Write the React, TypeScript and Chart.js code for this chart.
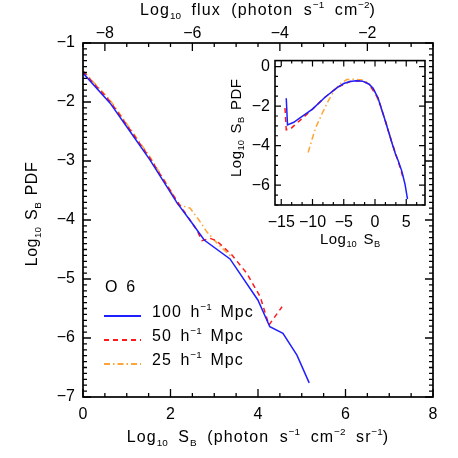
import { useEffect, useRef } from 'react';
import { Chart, registerables } from 'chart.js';

Chart.register(...registerables);

const FONT = '"Liberation Sans", "DejaVu Sans", Arial, sans-serif';

// ---------- Main panel data ----------
const mainBlueX = [0, 0.62, 1.0, 1.53, 2.15, 2.5, 2.77, 3.36, 4.0, 4.27, 4.57, 4.89, 5.17];
const mainBlueY = [-1.51, -2.02, -2.42, -2.98, -3.71, -4.06, -4.34, -4.66, -5.36, -5.81, -5.92, -6.29, -6.76];

const mainRedX = [0, 0.62, 1.0, 1.53, 2.15, 2.4, 2.6, 2.72, 2.9, 3.05, 3.4, 3.74, 4.05, 4.25, 4.55];
const mainRedY = [-1.48, -1.99, -2.39, -2.95, -3.68, -3.95, -4.17, -4.35, -4.31, -4.35, -4.59, -4.9, -5.3, -5.78, -5.47];

const mainOrangeX = [0, 0.62, 1.0, 1.53, 2.0, 2.17, 2.45, 2.65, 2.83, 3.1, 3.4];
const mainOrangeY = [-1.47, -1.97, -2.37, -2.93, -3.5, -3.74, -3.8, -4.0, -4.2, -4.42, -4.63];

const mainXMajor = [0, 2, 4, 6, 8];
const mainYMajor = [-7, -6, -5, -4, -3, -2, -1];
const fluxMajor = [-8, -6, -4, -2];

// ---------- Inset data ----------
const insetBlueX = [-14.2, -14.0, -13, -12, -10, -8, -6, -5, -4, -3, -2, -1, -0.3, 0.5, 1.6, 2.7, 3.3, 3.7, 4.3, 4.8, 5.2];
const insetBlueY = [-1.6, -2.95, -2.82, -2.6, -2.15, -1.55, -1.05, -0.86, -0.76, -0.72, -0.74, -0.88, -1.1, -1.6, -2.7, -3.85, -4.45, -4.75, -5.3, -5.95, -6.7];

const insetRedX = [-14.4, -14.2, -13.5, -13, -12, -10.5, -9, -8, -6, -4, -3, -2, -1, 0.5, 1.6, 2.7, 3.5, 4.2, 4.5];
const insetRedY = [-2.1, -3.2, -3.15, -3.0, -2.72, -2.3, -1.85, -1.55, -1.05, -0.76, -0.72, -0.74, -0.88, -1.6, -2.7, -3.85, -4.6, -5.3, -5.62];

const insetOrangeX = [-10.7, -10, -9.5, -8.5, -7.5, -6.5, -5.5, -4.5, -3.5, -2, -1, 0, 1.6, 2.7, 3.4];
const insetOrangeY = [-4.35, -3.6, -3.1, -2.4, -1.75, -1.2, -0.85, -0.66, -0.64, -0.68, -0.82, -1.3, -2.65, -3.8, -4.5];

const insetXMajor = [-15, -10, -5, 0, 5];
const insetYMajor = [-6, -4, -2, 0];

const legendLabels = ['100', '50', '25'];
const ionLabel = 'O  6';

const BLUE = '#1e1eff';
const RED = '#ff1a1a';
const ORANGE = '#ffa436';

type Seg = { t: string; s?: 'sub' | 'sup' };
type RichOpts = { ls?: number; sp?: number };

function segAdvance(ctx: CanvasRenderingContext2D, sg: Seg, size: number, o: RichOpts) {
  const fs = sg.s ? size * 0.62 : size;
  ctx.font = `${fs}px ${FONT}`;
  const ls = sg.s ? 0 : o.ls || 0;
  const spaces = (sg.t.match(/ /g) || []).length;
  return ctx.measureText(sg.t).width + ls * sg.t.length + spaces * (o.sp || 0);
}

function drawRich(
  ctx: CanvasRenderingContext2D,
  segs: Seg[],
  x: number,
  y: number,
  size: number,
  align: 'left' | 'center',
  rotate = 0,
  o: RichOpts = {}
) {
  ctx.save();
  ctx.translate(x, y);
  if (rotate) ctx.rotate(rotate);
  let total = 0;
  for (const sg of segs) total += segAdvance(ctx, sg, size, o);
  let cx = align === 'center' ? -total / 2 : 0;
  ctx.textBaseline = 'middle';
  ctx.textAlign = 'left';
  ctx.fillStyle = '#000';
  for (const sg of segs) {
    const fs = sg.s ? size * 0.62 : size;
    ctx.font = `${fs}px ${FONT}`;
    const dy = sg.s === 'sub' ? size * 0.3 : sg.s === 'sup' ? -size * 0.36 : 0;
    const ls = sg.s ? 0 : o.ls || 0;
    for (const ch of sg.t) {
      ctx.fillText(ch, cx, dy);
      cx += ctx.measureText(ch).width + ls + (ch === ' ' ? o.sp || 0 : 0);
    }
  }
  ctx.restore();
}

const fmt = (v: number | string) => {
  const n = Number(v);
  return (n < 0 ? '\u2212' : '') + Math.abs(n);
};

function rangeSteps(min: number, max: number, step: number, start: number) {
  const out: number[] = [];
  for (let i = -200; i <= 200; i++) {
    const v = start + i * step;
    if (v >= min - 1e-9 && v <= max + 1e-9) out.push(v);
  }
  return out;
}

function isMajor(v: number, majors: number[]) {
  return majors.some((m) => Math.abs(m - v) < 1e-6);
}

function pts(xs: number[], ys: number[]) {
  return xs.map((x, i) => ({ x, y: ys[i] }));
}

function ds(label: string, xs: number[], ys: number[], color: string, dash: number[]) {
  return {
    label,
    data: pts(xs, ys),
    borderColor: color,
    backgroundColor: color,
    borderWidth: 1.5,
    borderDash: dash,
    pointRadius: 0,
    fill: false,
    tension: 0,
    xAxisID: 'x',
    yAxisID: 'y',
  };
}

const DASH_RED = [5, 4];
const DASH_ORANGE = [6, 3, 1.5, 3];
const TITLE_OPTS: RichOpts = { ls: 1.1, sp: 5 };
const LEGEND_OPTS: RichOpts = { ls: 1.1, sp: 3 };

export default function App() {
  const mainRef = useRef<HTMLCanvasElement>(null);
  const insetRef = useRef<HTMLCanvasElement>(null);

  useEffect(() => {
    const tickFont = { family: FONT, size: 16 };

    const mainPlugin = {
      id: 'mainDeco',
      afterDraw(chart: any) {
        const ctx: CanvasRenderingContext2D = chart.ctx;
        const a = chart.chartArea;
        const xs = chart.scales.x;
        const ys = chart.scales.y;
        const x2 = chart.scales.x2;
        ctx.save();
        ctx.strokeStyle = '#000';
        ctx.lineWidth = 1.7;
        ctx.strokeRect(a.left, a.top, a.right - a.left, a.bottom - a.top);
        ctx.lineWidth = 1.3;
        ctx.beginPath();
        const MAJ = 8;
        const MIN = 4;
        for (const v of rangeSteps(0, 8, 0.5, 0)) {
          const px = xs.getPixelForValue(v);
          const L = isMajor(v, mainXMajor) ? MAJ : MIN;
          ctx.moveTo(px, a.bottom);
          ctx.lineTo(px, a.bottom - L);
        }
        for (const v of rangeSteps(-8.5, -0.5, 0.5, 0)) {
          const px = x2.getPixelForValue(v);
          const L = isMajor(v, fluxMajor) ? MAJ : MIN;
          ctx.moveTo(px, a.top);
          ctx.lineTo(px, a.top + L);
        }
        for (const v of rangeSteps(-7, -1, 0.1, 0)) {
          const py = ys.getPixelForValue(v);
          const L = isMajor(v, mainYMajor) ? MAJ : MIN;
          ctx.moveTo(a.left, py);
          ctx.lineTo(a.left + L, py);
          ctx.moveTo(a.right, py);
          ctx.lineTo(a.right - L, py);
        }
        ctx.stroke();

        // titles
        drawRich(
          ctx,
          [{ t: 'Log' }, { t: '10', s: 'sub' }, { t: ' flux (photon s' }, { t: '\u22121', s: 'sup' }, { t: ' cm' }, { t: '\u22122', s: 'sup' }, { t: ')' }],
          258,
          11,
          16,
          'center',
          0,
          TITLE_OPTS
        );
        drawRich(
          ctx,
          [{ t: 'Log' }, { t: '10', s: 'sub' }, { t: ' S' }, { t: 'B', s: 'sub' }, { t: ' (photon s' }, { t: '\u22121', s: 'sup' }, { t: ' cm' }, { t: '\u22122', s: 'sup' }, { t: ' sr' }, { t: '\u22121', s: 'sup' }, { t: ')' }],
          258,
          438,
          16,
          'center',
          0,
          TITLE_OPTS
        );
        drawRich(
          ctx,
          [{ t: 'Log' }, { t: '10', s: 'sub' }, { t: ' S' }, { t: 'B', s: 'sub' }, { t: ' PDF' }],
          33,
          214,
          16,
          'center',
          -Math.PI / 2,
          { ls: 0.5, sp: 2 }
        );

        // legend
        drawRich(ctx, [{ t: ionLabel }], 105, 288, 16, 'left');
        const rows = [313, 337, 361];
        chart.data.datasets.forEach((d: any, i: number) => {
          const y = rows[i];
          ctx.save();
          ctx.strokeStyle = d.borderColor;
          ctx.lineWidth = 1.8;
          ctx.setLineDash(d.borderDash || []);
          ctx.beginPath();
          ctx.moveTo(104, y + 3);
          ctx.lineTo(141, y + 3);
          ctx.stroke();
          ctx.restore();
          drawRich(ctx, [{ t: legendLabels[i] + ' h' }, { t: '\u22121', s: 'sup' }, { t: ' Mpc' }], 152, y, 16, 'left', 0, LEGEND_OPTS);
        });
        ctx.restore();
      },
    };

    const mainChart = new Chart(mainRef.current as HTMLCanvasElement, {
      type: 'line',
      data: {
        datasets: [
          ds('100', mainBlueX, mainBlueY, BLUE, []),
          ds('50', mainRedX, mainRedY, RED, DASH_RED),
          ds('25', mainOrangeX, mainOrangeY, ORANGE, DASH_ORANGE),
        ] as any,
      },
      options: {
        responsive: false,
        animation: false,
        events: [],
        layout: { padding: { left: 0, right: 25, top: 0, bottom: 0 } },
        plugins: { legend: { display: false }, tooltip: { enabled: false } },
        scales: {
          x: {
            type: 'linear',
            position: 'bottom',
            min: 0,
            max: 8,
            afterBuildTicks: (s: any) => {
              s.ticks = mainXMajor.map((v) => ({ value: v }));
            },
            afterFit: (s: any) => {
              s.height = 61;
            },
            grid: { display: false, drawTicks: false },
            border: { display: false },
            ticks: { font: tickFont, color: '#000', padding: 8, maxRotation: 0, autoSkip: false, callback: fmt },
          },
          x2: {
            type: 'linear',
            position: 'top',
            min: -8.5,
            max: -0.5,
            afterBuildTicks: (s: any) => {
              s.ticks = fluxMajor.map((v) => ({ value: v }));
            },
            afterFit: (s: any) => {
              s.height = 43;
            },
            grid: { display: false, drawTicks: false },
            border: { display: false },
            ticks: { font: tickFont, color: '#000', padding: 0, maxRotation: 0, autoSkip: false, callback: fmt },
          },
          y: {
            type: 'linear',
            position: 'left',
            min: -7,
            max: -1,
            afterBuildTicks: (s: any) => {
              s.ticks = mainYMajor.map((v) => ({ value: v }));
            },
            afterFit: (s: any) => {
              s.width = 83;
            },
            grid: { display: false, drawTicks: false },
            border: { display: false },
            ticks: { font: tickFont, color: '#000', padding: 8, autoSkip: false, callback: fmt },
          },
        } as any,
      },
      plugins: [mainPlugin],
    });

    const insetFont = { family: FONT, size: 16 };
    const insetPlugin = {
      id: 'insetDeco',
      afterDraw(chart: any) {
        const ctx: CanvasRenderingContext2D = chart.ctx;
        const a = chart.chartArea;
        const xs = chart.scales.x;
        const ys = chart.scales.y;
        ctx.save();
        ctx.strokeStyle = '#000';
        ctx.lineWidth = 1.6;
        ctx.strokeRect(a.left, a.top, a.right - a.left, a.bottom - a.top);
        ctx.lineWidth = 1.2;
        ctx.beginPath();
        for (const v of rangeSteps(-16, 8, 5 / 3, 0)) {
          const px = xs.getPixelForValue(v);
          const L = isMajor(v, insetXMajor) ? 6 : 3;
          ctx.moveTo(px, a.bottom);
          ctx.lineTo(px, a.bottom - L);
          ctx.moveTo(px, a.top);
          ctx.lineTo(px, a.top + L);
        }
        for (const v of rangeSteps(-7, 0.3, 0.5, 0)) {
          const py = ys.getPixelForValue(v);
          const L = isMajor(v, insetYMajor) ? 6 : 3;
          ctx.moveTo(a.left, py);
          ctx.lineTo(a.left + L, py);
          ctx.moveTo(a.right, py);
          ctx.lineTo(a.right - L, py);
        }
        ctx.stroke();
        drawRich(
          ctx,
          [{ t: 'Log' }, { t: '10', s: 'sub' }, { t: ' S' }, { t: 'B', s: 'sub' }],
          (a.left + a.right) / 2,
          a.bottom + 35,
          15,
          'center',
          0,
          { ls: 0.5, sp: 2 }
        );
        drawRich(
          ctx,
          [{ t: 'Log' }, { t: '10', s: 'sub' }, { t: ' S' }, { t: 'B', s: 'sub' }, { t: ' PDF' }],
          a.left - 38,
          (a.top + a.bottom) / 2 - 5,
          15,
          'center',
          -Math.PI / 2,
          { ls: 0.5, sp: 2 }
        );
        ctx.restore();
      },
    };

    const insetChart = new Chart(insetRef.current as HTMLCanvasElement, {
      type: 'line',
      data: {
        datasets: [
          ds('100', insetBlueX, insetBlueY, BLUE, []),
          ds('50', insetRedX, insetRedY, RED, DASH_RED),
          ds('25', insetOrangeX, insetOrangeY, ORANGE, DASH_ORANGE),
        ] as any,
      },
      options: {
        responsive: false,
        animation: false,
        events: [],
        layout: { padding: { left: 0, right: 5, top: 9, bottom: 0 } },
        plugins: { legend: { display: false }, tooltip: { enabled: false } },
        scales: {
          x: {
            type: 'linear',
            position: 'bottom',
            min: -16,
            max: 8,
            afterBuildTicks: (s: any) => {
              s.ticks = insetXMajor.map((v) => ({ value: v }));
            },
            afterFit: (s: any) => {
              s.height = 47;
            },
            grid: { display: false, drawTicks: false },
            border: { display: false },
            ticks: { font: insetFont, color: '#000', padding: 8, maxRotation: 0, autoSkip: false, callback: fmt },
          },
          y: {
            type: 'linear',
            position: 'left',
            min: -7,
            max: 0.3,
            afterBuildTicks: (s: any) => {
              s.ticks = insetYMajor.map((v) => ({ value: v }));
            },
            afterFit: (s: any) => {
              s.width = 53;
            },
            grid: { display: false, drawTicks: false },
            border: { display: false },
            ticks: { font: insetFont, color: '#000', padding: 5, autoSkip: false, callback: fmt },
          },
        } as any,
      },
      plugins: [insetPlugin],
    });

    return () => {
      mainChart.destroy();
      insetChart.destroy();
    };
  }, []);

  return (
    <div style={{ position: 'absolute', left: 0, top: 0, width: 458, height: 458, background: '#fff' }}>
      <canvas ref={mainRef} width={458} height={458} style={{ position: 'absolute', left: 0, top: 0, width: 458, height: 458 }} />
      <canvas ref={insetRef} width={208} height={206} style={{ position: 'absolute', left: 222, top: 46, width: 208, height: 206 }} />
    </div>
  );
}
